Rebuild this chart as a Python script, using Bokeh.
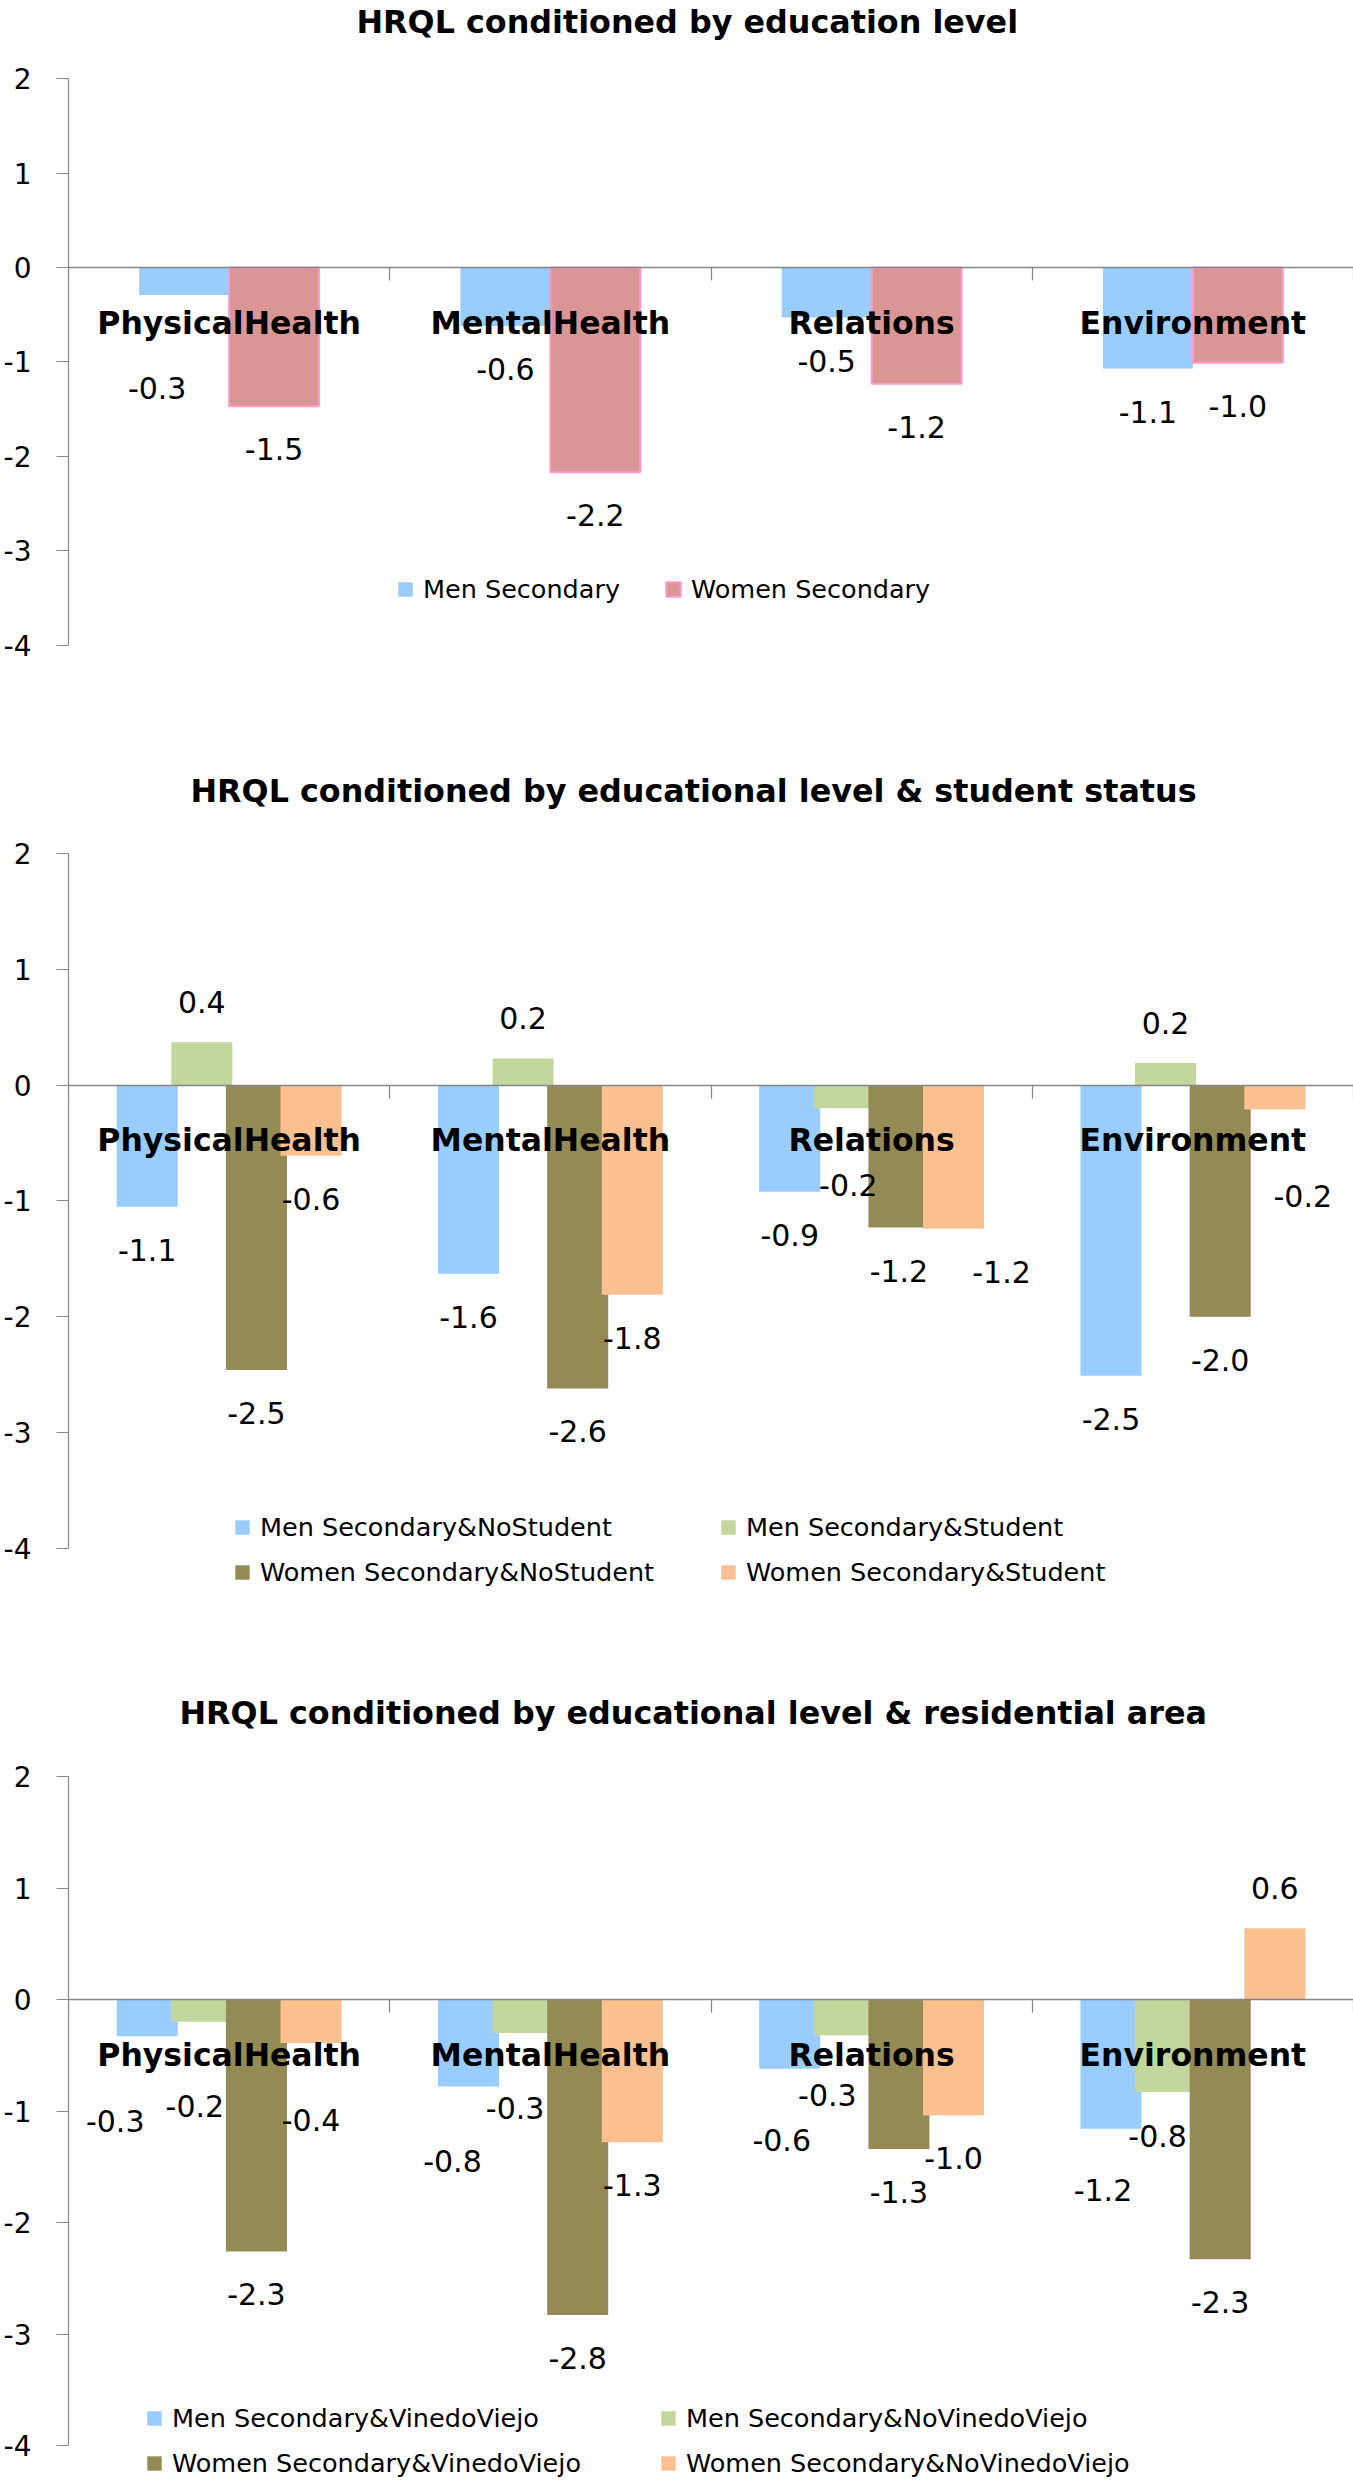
from bokeh.plotting import figure
from bokeh.models import (ColumnDataSource, Range1d, FixedTicker, LinearAxis,
                          CustomJSTickFormatter, Legend, LegendItem)
from bokeh.transform import dodge
from bokeh.layouts import column
from bokeh.core.properties import value
from bokeh.embed import file_html
from bokeh.resources import INLINE

# ---------------- data ----------------
categories = ["PhysicalHealth", "MentalHealth", "Relations", "Environment"]
y_ticks = [-4, -3, -2, -1, 0, 1, 2]

p1_title = "HRQL conditioned by education level"
p1_series = ["Men Secondary", "Women Secondary"]
p1_men_secondary = [-0.29, -0.62, -0.53, -1.07]
p1_women_secondary = [-1.47, -2.17, -1.23, -1.01]

p2_title = "HRQL conditioned by educational level & student status"
p2_series = ["Men Secondary&NoStudent", "Men Secondary&Student",
             "Women Secondary&NoStudent", "Women Secondary&Student"]
p2_men_nostudent = [-1.05, -1.63, -0.92, -2.51]
p2_men_student = [0.37, 0.23, -0.20, 0.19]
p2_women_nostudent = [-2.46, -2.62, -1.23, -2.00]
p2_women_student = [-0.61, -1.81, -1.24, -0.21]

p3_title = "HRQL conditioned by educational level & residential area"
p3_series = ["Men Secondary&VinedoViejo", "Men Secondary&NoVinedoViejo",
             "Women Secondary&VinedoViejo", "Women Secondary&NoVinedoViejo"]
p3_men_vinedoviejo = [-0.33, -0.78, -0.62, -1.16]
p3_men_novinedoviejo = [-0.20, -0.30, -0.32, -0.83]
p3_women_vinedoviejo = [-2.26, -2.83, -1.34, -2.33]
p3_women_novinedoviejo = [-0.39, -1.28, -1.04, 0.64]

# ---------------- styling / label placement ----------------
FONT = "DejaVu Sans"
AXIS_GRAY = "#868686"
BLUE, PINK, GREEN, OLIVE, ORANGE = "#99CCFF", "#D99694", "#C3D69B", "#948A54", "#FAC090"

# manual nudges of individual data labels (pixels), series x category
p1_nudge_dx = [[-27, 0, 0, 0], [0, 0, 0, 0]]
p1_nudge_dy = [[50, 0, 0, 0], [0, 0, 0, 0]]
p2_nudge_dx = [[0, 0, 0, 0], [0, 0, 4, 0], [0, 0, 0, 0], [0, 0, 48, 28]]
p2_nudge_dy = [[0, 0, 0, 0], [0, 0, 34, 0], [0, 0, 0, 0], [0, 0, 0, 44]]
p3_nudge_dx = [[-32, -16, -8, -8], [-7, -8, -17, -8], [0, 0, 0, 0], [0, 0, 0, 0]]
p3_nudge_dy = [[42, 32, 28, 18], [41, 32, 17, 1], [0, 0, 0, 0], [34, 0, 0, 0]]


def make_panel(title, title_offset, names, series, colors, line_colors, offsets, bar_width,
               ndx, ndy, canvas_h, b_top, zero_px, ppu,
               leg_loc, leg_ncols, leg_label_width, leg_spacing):
    n = len(categories)
    data = dict(pos=[i + 0.5 for i in range(n)])
    for k, vals in enumerate(series):
        data["v%d" % k] = vals
        data["t%d" % k] = ["%.1f" % v for v in vals]
        data["xo%d" % k] = [ndx[k][i] for i in range(n)]
        data["yo%d" % k] = [(43 if v < 0 else -40) + ndy[k][i] for i, v in enumerate(vals)]
    src = ColumnDataSource(data)

    # frame extends above/below the axis span; the y axis itself is bounded to the ticks
    y_hi = (zero_px - b_top) / ppu
    y_lo = -(canvas_h - zero_px) / ppu

    p = figure(width=1353, height=canvas_h,
               x_range=Range1d(0, n), y_range=Range1d(y_lo, y_hi),
               output_backend="svg", toolbar_location=None,
               min_border_left=67, min_border_right=0,
               min_border_top=b_top, min_border_bottom=0,
               x_axis_location=None, y_axis_location="left")
    p.outline_line_color = None
    p.grid.visible = False
    p.background_fill_color = "white"

    p.title.text = title
    p.title.text_font = FONT
    p.title.text_font_style = "bold"
    p.title.text_font_size = "31.8px"
    p.title.text_color = "black"
    p.title.align = "left"
    p.title.offset = title_offset
    p.title.standoff = 0

    ya = p.yaxis[0]
    ya.ticker = FixedTicker(ticks=y_ticks)
    ya.bounds = (min(y_ticks), max(y_ticks))
    ya.formatter = CustomJSTickFormatter(code="return String(tick);")
    ya.axis_line_color = AXIS_GRAY
    ya.axis_line_width = 1.2
    ya.major_tick_line_color = AXIS_GRAY
    ya.major_tick_line_width = 1.2
    ya.major_tick_out = 12
    ya.major_tick_in = 0
    ya.minor_tick_line_color = None
    ya.major_label_text_font = FONT
    ya.major_label_text_font_size = "28px"
    ya.major_label_text_color = "black"
    ya.major_label_standoff = 25

    bound_axis = LinearAxis(ticker=FixedTicker(ticks=list(range(n + 1))), fixed_location=0,
                            axis_line_color=AXIS_GRAY, axis_line_width=1.6,
                            major_tick_line_color=AXIS_GRAY, major_tick_line_width=1.2,
                            major_tick_out=13, major_tick_in=0,
                            minor_tick_line_color=None,
                            formatter=CustomJSTickFormatter(code="return '';"),
                            major_label_text_font_size="1px")
    p.add_layout(bound_axis, "below")

    cat_axis = LinearAxis(ticker=FixedTicker(ticks=data["pos"]), fixed_location=0,
                          formatter=CustomJSTickFormatter(args=dict(cats=categories),
                                                          code="return cats[Math.floor(tick)] || '';"),
                          axis_line_color=None, major_tick_line_color=None,
                          minor_tick_line_color=None, major_tick_out=0, major_tick_in=0,
                          major_label_standoff=37,
                          major_label_text_font=FONT, major_label_text_font_style="bold",
                          major_label_text_font_size="31.5px", major_label_text_color="black")
    p.add_layout(cat_axis, "below")

    renderers = []
    for k in range(len(series)):
        r = p.vbar(x=dodge("pos", offsets[k]), top="v%d" % k, bottom=0, width=bar_width,
                   source=src, fill_color=colors[k], line_color=line_colors[k],
                   line_width=2 if line_colors[k] else 0)
        renderers.append(r)
    for k in range(len(series)):
        p.text(x=dodge("pos", offsets[k]), y="v%d" % k, text="t%d" % k,
               x_offset="xo%d" % k, y_offset="yo%d" % k, source=src,
               text_align="center", text_baseline="middle",
               text_font=value(FONT), text_font_size="30px", text_color="black")

    legend = Legend(items=[LegendItem(label=value(nm), renderers=[r]) for nm, r in zip(names, renderers)],
                    orientation="horizontal", location=leg_loc,
                    label_text_font=FONT, label_text_font_size="25.5px",
                    label_text_color="black",
                    glyph_width=18, glyph_height=18, label_standoff=9,
                    spacing=leg_spacing, padding=0, margin=0,
                    border_line_color=None, background_fill_alpha=0,
                    label_width=leg_label_width)
    if leg_ncols:
        legend.ncols = leg_ncols
    p.add_layout(legend)
    return p


f1 = make_panel(p1_title, 288, p1_series, [p1_men_secondary, p1_women_secondary],
                [BLUE, PINK], [None, "#FF99CC"], [-0.14, 0.14], 0.28,
                p1_nudge_dx, p1_nudge_dy, 740, 36, 265, 94.8,
                (328, 136), None, 20, 44)
f2 = make_panel(p2_title, 122, p2_series,
                [p2_men_nostudent, p2_men_student, p2_women_nostudent, p2_women_student],
                [BLUE, GREEN, OLIVE, ORANGE], [None, None, None, None],
                [-0.255, -0.085, 0.085, 0.255], 0.19,
                p2_nudge_dx, p2_nudge_dy, 930, 68, 344.6, 115.8,
                (165, 83), 2, 444, 15)
f3 = make_panel(p3_title, 111, p3_series,
                [p3_men_vinedoviejo, p3_men_novinedoviejo, p3_women_vinedoviejo, p3_women_novinedoviejo],
                [BLUE, GREEN, OLIVE, ORANGE], [None, None, None, None],
                [-0.255, -0.085, 0.085, 0.255], 0.19,
                p3_nudge_dx, p3_nudge_dy, 811, 60, 329, 111.5,
                (77, 3), 2, 472, 15)

layout = column(f1, f2, f3)
open("out.html", "w").write(file_html(layout, INLINE))
